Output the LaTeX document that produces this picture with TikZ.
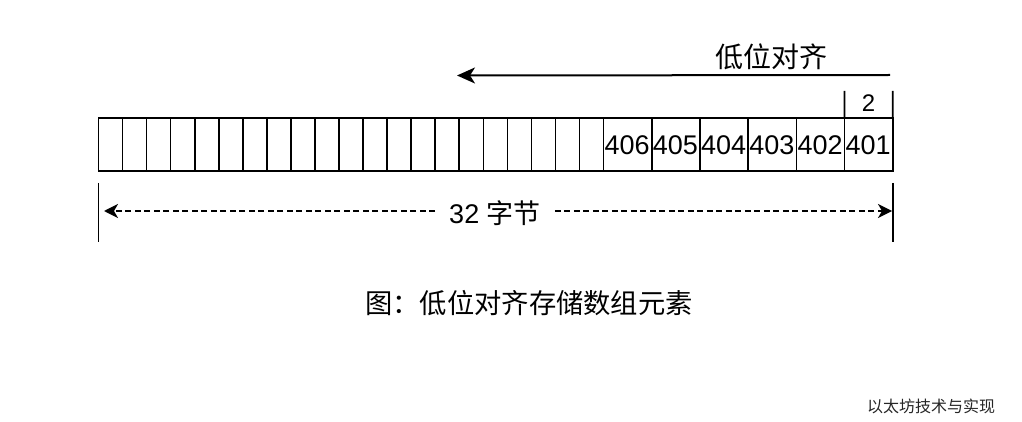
\documentclass[tikz,border=0pt]{standalone}
\usepackage{fontspec}
\setmainfont{Liberation Sans}
\newfontfamily\cjk{Noto Sans CJK SC}
\usetikzlibrary{arrows.meta}
\tikzset{
  cellbox/.style={draw=black, fill=white, line width=1.6pt, minimum height=53pt, inner sep=0pt, outer sep=0pt, anchor=north west},
  celltext/.style={font=\fontsize{27}{27}\selectfont, inner sep=0pt, anchor=west},
  lbl/.style={font=\fontsize{27}{27}\selectfont, inner sep=0pt},
  toptip/.style={-{Stealth[length=18pt,width=16pt,inset=5pt]}},
  dimtip/.style={-{Stealth[length=14pt,width=14pt,inset=4pt]}},
  thinv/.style={line width=1.6pt}
}
\begin{document}
\begin{tikzpicture}[x=1pt,y=-1pt]
\useasboundingbox[fill=white] (0,0) rectangle (1022,422);
% small cells
\foreach \i in {0,...,20}{
  \node[cellbox, minimum width=24.05pt] (s\i) at ({98.5+24.05*\i},118) {};
}
% wide cells
\foreach \j/\v in {0/406,1/405,2/404,3/403,4/402,5/401}{
  \node[cellbox, minimum width=48.2pt] (w\j) at ({603.5+48.2*\j},118) {};
  \node[celltext] (t\j) at ([xshift=1pt,yshift=-0.5pt]w\j.west) {\v};
}
% "2" marker
\coordinate (m1) at (844.5,91);
\coordinate (m2) at (892.7,91);
\draw[thinv] (m1) -- (w5.north west);
\draw[thinv] (m2) -- (w5.north east);
\node[lbl, font=\fontsize{24}{24}\selectfont] (two) at (868.5,103) {2};
% top arrow
\node[lbl, font=\fontsize{28}{28}\selectfont\cjk] (la) at (771,57) {低位对齐};
\coordinate (a1) at (890,75);
\coordinate (a2) at (457,75.5);
\draw[toptip, line width=2pt] (a1) -- (a2);
% dimension
\coordinate (d1t) at (98.5,183);
\coordinate (d1b) at (98.5,242);
\coordinate (d2t) at (892.7,183);
\coordinate (d2b) at (892.7,242);
\draw[thinv] (d1t) -- (d1b);
\draw[thinv] (d2t) -- (d2b);
\coordinate (dl) at (104,211);
\coordinate (dr) at (892,211);
\node[lbl, fill=white, inner xsep=14pt, inner ysep=2pt] (dim) at (495,213) {32 {\cjk 字节}};
\draw[dimtip, line width=1.8pt, dash pattern=on 6pt off 3.5pt] (dim.west |- dl) -- (dl);
\draw[dimtip, line width=1.8pt, dash pattern=on 6pt off 3.5pt] (dim.east |- dr) -- (dr);
% caption
\node[lbl, font=\fontsize{27.3}{27.3}\selectfont\cjk] (cap) at (529,303) {图：低位对齐存储数组元素};
% watermark
\node[font=\fontsize{16}{16}\selectfont\cjk, text=black!85, inner sep=0pt] (wm) at (931,406) {以太坊技术与实现};
\end{tikzpicture}
\end{document}
